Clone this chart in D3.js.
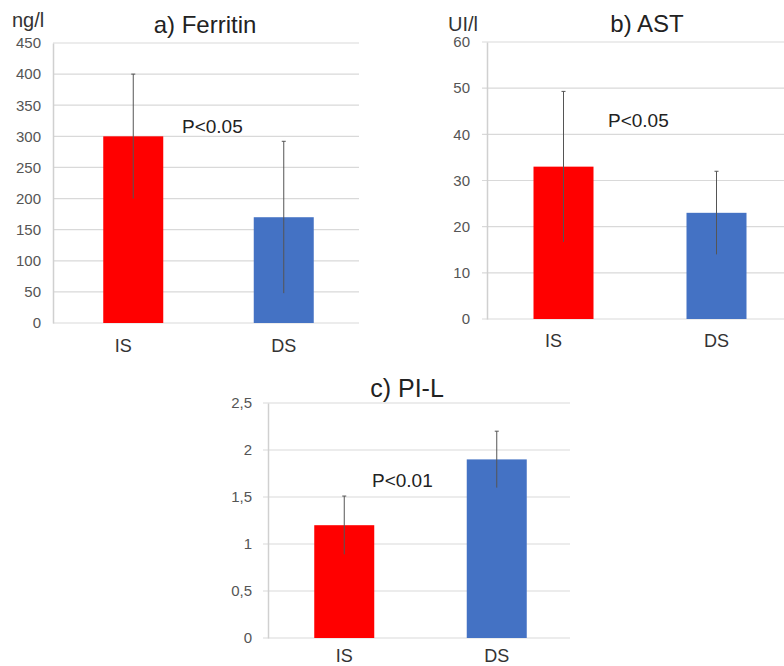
<!DOCTYPE html>
<html>
<head>
<meta charset="utf-8">
<script src="https://cdn.jsdelivr.net/npm/d3@7"></script>
<style>
  body { margin: 0; background: #fff; }
  svg { display: block; font-family: "Liberation Sans", Arial, sans-serif; }
</style>
</head>
<body>
<div id="chart"></div>
<script>
// groups shared by all three panels
const groups = ['IS', 'DS'];
const barColors = ['#ff0000', '#4472c4'];

// a) Ferritin (ng/l)
const ferritinMean = [300, 170];
const ferritinErr = [100, 122];
const ferritinTicks = [0, 50, 100, 150, 200, 250, 300, 350, 400, 450];

// b) AST (UI/l)
const astMean = [33, 23];
const astErr = [16.3, 9];
const astTicks = [0, 10, 20, 30, 40, 50, 60];

// c) PI-L
const pilMean = [1.2, 1.9];
const pilErr = [0.31, 0.3];
const pilTicks = [0, 0.5, 1, 1.5, 2, 2.5];

const width = 784, height = 666;

const svg = d3.select('#chart').append('svg')
  .attr('width', width)
  .attr('height', height);

function drawPanel(p) {
  const g = svg.append('g');

  const y = d3.scaleLinear()
    .domain([0, d3.max(p.ticks)])
    .range([p.bottom, p.top]);

  const x = d3.scalePoint()
    .domain(groups)
    .range(p.xRange)
    .padding(0.5);

  // gridlines
  g.append('g')
    .selectAll('line')
    .data(p.ticks)
    .enter()
    .append('line')
      .attr('x1', p.left - p.tickOut)
      .attr('x2', p.right)
      .attr('y1', d => y(d))
      .attr('y2', d => y(d))
      .attr('stroke', '#d9d9d9')
      .attr('stroke-width', 1.2);

  // y axis
  const yAxis = d3.axisLeft(y)
    .tickValues(p.ticks)
    .tickSize(0)
    .tickPadding(p.tickPad)
    .tickFormat(p.fmt);

  const ya = g.append('g')
    .attr('transform', `translate(${p.left}, 0)`)
    .call(yAxis);
  ya.select('.domain').attr('stroke', '#d0d0d0').attr('stroke-width', 1.5);
  ya.selectAll('text')
    .attr('font-size', 15)
    .attr('fill', '#555')
    .attr('font-family', '"Liberation Sans", Arial, sans-serif');

  // bars
  const bw = 60;
  g.selectAll('.bar')
    .data(groups)
    .enter()
    .append('rect')
      .attr('class', 'bar')
      .attr('x', d => x(d) - bw / 2)
      .attr('width', bw)
      .attr('y', (d, i) => y(p.mean[i]))
      .attr('height', (d, i) => y(0) - y(p.mean[i]))
      .attr('fill', (d, i) => barColors[i]);

  // error bars
  const eb = g.selectAll('.err')
    .data(groups)
    .enter()
    .append('g')
      .attr('class', 'err')
      .attr('stroke', '#555')
      .attr('stroke-width', 1);

  eb.append('line')
    .attr('x1', d => x(d))
    .attr('x2', d => x(d))
    .attr('y1', (d, i) => y(p.mean[i] + p.err[i]))
    .attr('y2', (d, i) => y(p.mean[i] - p.err[i]));

  eb.append('line')
    .attr('x1', d => x(d) - 2)
    .attr('x2', d => x(d) + 2)
    .attr('y1', (d, i) => y(p.mean[i] + p.err[i]))
    .attr('y2', (d, i) => y(p.mean[i] + p.err[i]));

  // category labels
  g.selectAll('.cat')
    .data(groups)
    .enter()
    .append('text')
      .attr('class', 'cat')
      .attr('x', d => x(d) + (d === 'IS' ? p.isShift : 0))
      .attr('y', p.catY)
      .attr('text-anchor', 'middle')
      .attr('font-size', 18)
      .attr('fill', '#333')
      .text(d => d);

  // title
  g.append('text')
    .attr('x', p.titleX)
    .attr('y', p.titleY)
    .attr('text-anchor', 'middle')
    .attr('font-size', p.titleSize)
    .attr('fill', '#222')
    .text(p.title);

  // unit
  if (p.unit) {
    g.append('text')
      .attr('x', p.unitX)
      .attr('y', p.unitY)
      .attr('font-size', 20)
      .attr('fill', '#333')
      .text(p.unit);
  }

  // significance
  g.append('text')
    .attr('x', p.pX)
    .attr('y', p.pY)
    .attr('font-size', 19)
    .attr('fill', '#222')
    .text(p.pText);
}

const fmtComma = d => String(d).replace('.', ',');

drawPanel({
  mean: ferritinMean, err: ferritinErr, ticks: ferritinTicks, fmt: d3.format('d'),
  left: 53, right: 359, top: 43, bottom: 323, xRange: [58, 359], tickOut: 0, tickPad: 12,
  catY: 352, isShift: -10,
  title: 'a) Ferritin', titleX: 205, titleY: 33, titleSize: 24,
  unit: 'ng/l', unitX: 12, unitY: 27,
  pText: 'P<0.05', pX: 182, pY: 133
});

drawPanel({
  mean: astMean, err: astErr, ticks: astTicks, fmt: d3.format('d'),
  left: 487, right: 784, top: 42, bottom: 319, xRange: [487, 793], tickOut: 5, tickPad: 17,
  catY: 347, isShift: -10,
  title: 'b) AST', titleX: 647, titleY: 32, titleSize: 24,
  unit: 'UI/l', unitX: 448, unitY: 31,
  pText: 'P<0.05', pX: 608, pY: 127
});

drawPanel({
  mean: pilMean, err: pilErr, ticks: pilTicks, fmt: fmtComma,
  left: 268, right: 570, top: 403, bottom: 638, xRange: [268, 573], tickOut: 5, tickPad: 16,
  catY: 662, isShift: 0,
  title: 'c) PI-L', titleX: 407, titleY: 397, titleSize: 25,
  unit: null,
  pText: 'P<0.01', pX: 372, pY: 487
});
</script>
</body>
</html>
